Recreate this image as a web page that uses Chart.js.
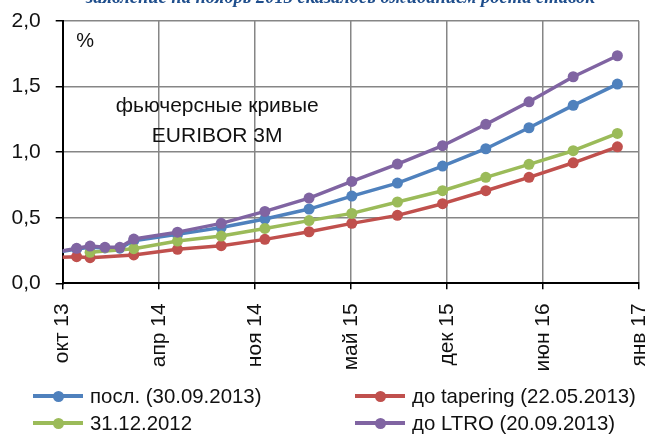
<!DOCTYPE html>
<html>
<head>
<meta charset="utf-8">
<script src="https://cdn.jsdelivr.net/npm/chart.js@4"></script>
<style>
  html,body{margin:0;padding:0;background:#fff;}
  #wrap{position:relative;width:651px;height:434px;overflow:hidden;font-family:"Liberation Sans",Arial,sans-serif;}
  #c{position:absolute;left:0;top:0;}
  .topline{position:absolute;left:86px;top:-13px;font-family:"Liberation Serif",serif;font-style:italic;font-weight:bold;font-size:18.5px;color:#1f4e8c;white-space:nowrap;}
  .lg{position:absolute;height:24px;line-height:24px;font-size:20.4px;color:#111;white-space:nowrap;}
  .lg .ln{position:absolute;top:10px;width:50px;height:4px;}
  .lg .dt{position:absolute;top:6.5px;width:11px;height:11px;border-radius:50%;}
  .lg .tx{position:absolute;top:0;}
</style>
</head>
<body>
<div id="wrap">
  <canvas id="c" width="651" height="434"></canvas>
  <div class="topline">заявление на ноябрь 2013 сказалось ожиданием роста ставок</div>
  <div id="legend"></div>
</div>
<script>
// x positions: days after 01.10.2013 (axis start "окт 13")
const days = [-15, 29, 57, 88, 119, 148, 239, 330, 421, 513, 602, 697, 791, 881, 971, 1063, 1155];
const xTickLabels = ["окт 13", "апр 14", "ноя 14", "май 15", "дек 15", "июн 16", "янв 17"];
const yTicks = [0, 0.5, 1, 1.5, 2];
const seriesNames = ["посл. (30.09.2013)", "до tapering (22.05.2013)", "31.12.2012", "до LTRO (20.09.2013)"];
const lastValues    = [0.235, 0.262, 0.275, 0.270, 0.268, 0.325, 0.373, 0.425, 0.490, 0.566, 0.665, 0.764, 0.894, 1.026, 1.186, 1.357, 1.519];
const taperValues   = [0.196, 0.203, 0.195, null, null, 0.216, 0.259, 0.287, 0.335, 0.393, 0.457, 0.518, 0.607, 0.706, 0.808, 0.919, 1.041];
const dec2012Values = [null, null, 0.236, null, null, 0.264, 0.322, 0.360, 0.418, 0.478, 0.533, 0.620, 0.706, 0.808, 0.907, 1.011, 1.143];
const ltroValues    = [0.238, 0.267, 0.284, 0.274, 0.274, 0.337, 0.390, 0.457, 0.548, 0.650, 0.777, 0.909, 1.049, 1.212, 1.384, 1.575, 1.735];
const colors = ["#4f81bd", "#c0504d", "#9bbb59", "#8064a2"];

const allSeries = [lastValues, taperValues, dec2012Values, ltroValues];
const drawOrder = [3, 2, 1, 0];
function pts(vals){ const r=[]; vals.forEach((v,i)=>{ if(v!==null) r.push({x:days[i], y:v}); }); return r; }

const FONT = "'Liberation Sans', Arial, sans-serif";
const FS = 21;
const gridColor = (ctx) => (ctx.tick && ctx.tick.value === 0) ? 'rgba(0,0,0,0)' : '#868686';

const datasets = allSeries.map((vals, i) => ({
  label: seriesNames[i],
  data: pts(vals),
  borderColor: colors[i],
  backgroundColor: colors[i],
  pointBackgroundColor: colors[i],
  pointBorderWidth: 0,
  pointRadius: 5.5,
  borderWidth: 3.5,
  tension: 0,
  order: drawOrder[i],
  clip: {left: 0, top: 20, right: 20, bottom: 20}
}));

const textPlugin = {
  id: 'texts',
  afterDraw(chart) {
    const {ctx, chartArea} = chart;
    ctx.save();
    ctx.fillStyle = '#111';
    ctx.font = "20px " + FONT;
    ctx.textAlign = 'left';
    ctx.textBaseline = 'alphabetic';
    ctx.fillText('%', chartArea.left + 13.5, chartArea.top + 26);
    ctx.font = FS + "px " + FONT;
    ctx.textAlign = 'center';
    ctx.fillText('фьючерсные кривые', chartArea.left + 154.5, chartArea.top + 90.5);
    ctx.fillText('EURIBOR 3M', chartArea.left + 154.5, chartArea.top + 120.5);
    ctx.restore();
  }
};

const dashPlugin = {
  id: 'dashfix',
  beforeInit(chart) {
    chart.options.scales.x.grid.borderDash = [5, 3.5];
    chart.options.scales.y.grid.borderDash = [5, 3.5];
  }
};

new Chart(document.getElementById('c'), {
  type: 'line',
  data: { datasets },
  plugins: [textPlugin, dashPlugin],
  options: {
    responsive: false,
    animation: false,
    layout: { padding: { top: 21, left: 0, right: 12, bottom: 0 } },
    plugins: { legend: { display: false }, tooltip: { enabled: false } },
    scales: {
      x: {
        type: 'linear',
        min: 0, max: 1200,
        afterBuildTicks: (s) => { s.ticks = xTickLabels.map((_, i) => ({ value: i * 200 })); },
        afterFit: (s) => { s.height = 150.7; s.paddingLeft = 0; s.paddingRight = 0; },
        ticks: {
          autoSkip: false, minRotation: 90, maxRotation: 90, padding: 14,
          color: '#111', font: { family: FONT, size: FS },
          callback: (v) => xTickLabels[Math.round(v / 200)]
        },
        grid: { color: gridColor, lineWidth: 1.5, tickLength: 6, tickColor: '#000', tickWidth: 1.5, tickBorderDash: [] },
        border: { display: true, color: '#000', width: 2, z: 1 }
      },
      y: {
        min: 0, max: 2,
        afterBuildTicks: (s) => { s.ticks = yTicks.map(v => ({ value: v })); },
        afterFit: (s) => { s.width = 62.7; s.paddingTop = 0; s.paddingBottom = 0; },
        ticks: {
          padding: 15, color: '#111', font: { family: FONT, size: FS },
          callback: (v) => v.toFixed(1).replace('.', ',')
        },
        grid: { color: gridColor, lineWidth: 1.5, tickLength: 7, tickColor: '#000', tickWidth: 1.5, tickBorderDash: [] },
        border: { display: true, color: '#000', width: 2 }
      }
    },
    elements: { line: { borderCapStyle: 'round', borderJoinStyle: 'round' } }
  }
});

// HTML legend (2 columns)
const legendPos = [
  { left: 33, top: 384 },
  { left: 355, top: 384 },
  { left: 33, top: 411 },
  { left: 355, top: 411 }
];
const lg = document.getElementById('legend');
seriesNames.forEach((name, i) => {
  const d = document.createElement('div');
  d.className = 'lg';
  d.style.left = legendPos[i].left + 'px';
  d.style.top = legendPos[i].top + 'px';
  d.innerHTML = '<span class="ln" style="left:0;background:' + colors[i] + '"></span>' +
                '<span class="dt" style="left:19.5px;background:' + colors[i] + '"></span>' +
                '<span class="tx" style="left:57px">' + name + '</span>';
  lg.appendChild(d);
});
</script>
</body>
</html>
